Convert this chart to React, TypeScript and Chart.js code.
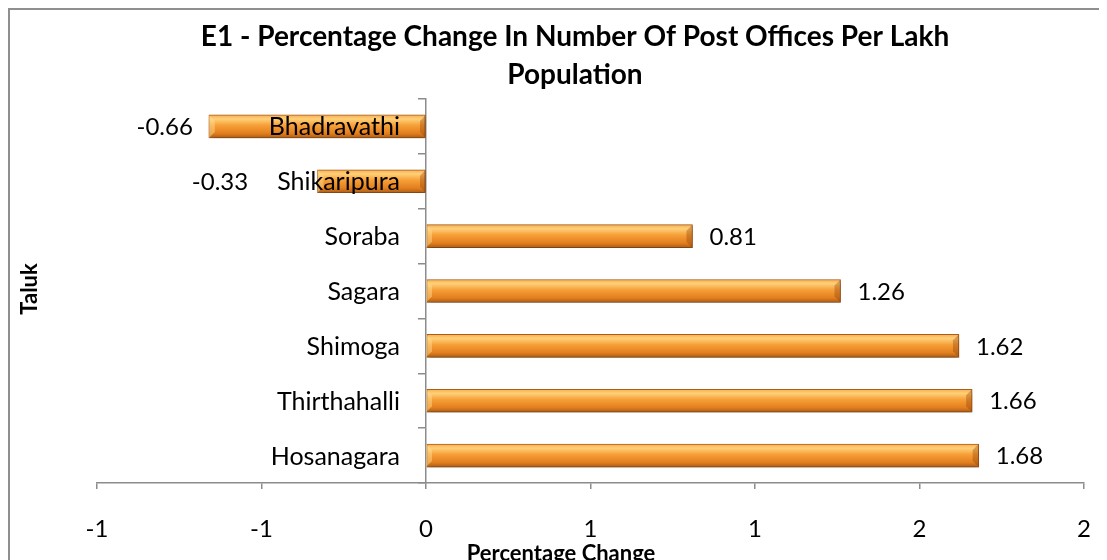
import React, { useEffect, useRef } from "react";
import { Chart, registerables } from "chart.js";

Chart.register(...registerables);

// ---- data ----
const categories = [
  "Bhadravathi",
  "Shikaripura",
  "Soraba",
  "Sagara",
  "Shimoga",
  "Thirthahalli",
  "Hosanagara",
];
const values = [-0.66, -0.33, 0.81, 1.26, 1.62, 1.66, 1.68];
const xTickLabels = ["-1", "-1", "0", "1", "1", "2", "2"];
const titleLines = [
  "E1 - Percentage Change In Number Of Post Offices Per Lakh",
  "Population",
];
const xTitle = "Percentage Change";
const yTitle = "Taluk";

const W = 1099;
const H = 552;
const FONT = "Lato";
const BAR_T = 23;
const AXIS_COLOR = "#8c8c8c";
const CAT_GAP = 26;

const decorPlugin = {
  id: "decor",
  beforeDraw(chart: any) {
    const ctx = chart.ctx;
    ctx.save();
    ctx.strokeStyle = "#8f8f8f";
    ctx.lineWidth = 2;
    ctx.strokeRect(1, 1, W + 20, H + 20);
    ctx.restore();
  },
  beforeDatasetsDraw(chart: any) {
    const ctx = chart.ctx;
    ctx.save();
    ctx.shadowColor = "rgba(0,0,0,0.35)";
    ctx.shadowBlur = 5;
    ctx.shadowOffsetX = 1;
    ctx.shadowOffsetY = 3;
  },
  afterDatasetsDraw(chart: any) {
    const ctx = chart.ctx;
    ctx.restore();
    const meta = chart.getDatasetMeta(0);
    const xs = chart.scales.x;
    const ys = chart.scales.y;
    const zero = xs.getPixelForValue(0);
    ctx.save();
    ctx.font = `25px ${FONT}`;
    const catLeft = categories.map((n) => zero - CAT_GAP - ctx.measureText(n).width);
    meta.data.forEach((bar: any, i: number) => {
      const x0 = Math.min(bar.x, zero);
      const x1 = Math.max(bar.x, zero);
      const y0 = bar.y - BAR_T / 2;
      const y1 = bar.y + BAR_T / 2;
      const b = 6;
      ctx.fillStyle = "rgba(255,225,150,0.45)";
      ctx.beginPath();
      ctx.moveTo(x0, y0);
      ctx.lineTo(x0 + b, y0 + b);
      ctx.lineTo(x0 + b, y1 - b);
      ctx.lineTo(x0, y1);
      ctx.closePath();
      ctx.fill();
      ctx.fillStyle = "rgba(140,60,5,0.35)";
      ctx.beginPath();
      ctx.moveTo(x1, y0);
      ctx.lineTo(x1 - b, y0 + b);
      ctx.lineTo(x1 - b, y1 - b);
      ctx.lineTo(x1, y1);
      ctx.closePath();
      ctx.fill();
      const v = values[i];
      ctx.fillStyle = "#000";
      ctx.font = `24px ${FONT}`;
      ctx.textBaseline = "middle";
      if (v >= 0) {
        ctx.textAlign = "left";
        ctx.fillText(String(v), bar.x + 17, bar.y + 1);
      } else {
        ctx.textAlign = "right";
        const xr = Math.min(bar.x - 16, catLeft[i] - 29);
        ctx.fillText(String(v), xr, bar.y + 1);
      }
    });
    // category labels beside the zero line, drawn over the bars
    ctx.fillStyle = "#000";
    ctx.font = `25px ${FONT}`;
    ctx.textAlign = "right";
    ctx.textBaseline = "middle";
    categories.forEach((name, i) => {
      ctx.fillText(name, zero - CAT_GAP, ys.getPixelForValue(i) + 1);
    });
    ctx.restore();
  },
  afterDraw(chart: any) {
    const ctx = chart.ctx;
    ctx.save();
    ctx.fillStyle = "#000";
    ctx.textAlign = "center";
    ctx.textBaseline = "alphabetic";
    ctx.font = `bold 28px ${FONT}`;
    ctx.fillText(titleLines[0], 567, 38);
    ctx.fillText(titleLines[1], 567, 76);
    ctx.font = `bold 22px ${FONT}`;
    ctx.fillText(xTitle, 553, 553);
    ctx.translate(22, 281);
    ctx.rotate(-Math.PI / 2);
    ctx.textBaseline = "middle";
    ctx.font = `bold 22px ${FONT}`;
    ctx.fillText(yTitle, 0, 0);
    ctx.restore();
  },
};

export default function App() {
  const ref = useRef<HTMLCanvasElement | null>(null);
  useEffect(() => {
    document.documentElement.style.overflow = "hidden";
    const canvas = ref.current!;
    const chart = new Chart(canvas, {
      type: "bar",
      data: {
        labels: categories,
        datasets: [
          {
            data: values,
            barThickness: BAR_T,
            borderWidth: 1,
            borderColor: "#b0601a",
            borderSkipped: false,
            backgroundColor: (c: any) => {
              const ch = c.chart;
              const ys = ch.scales && ch.scales.y;
              if (!ys || c.dataIndex === undefined) return "#f39a36";
              const cy = ys.getPixelForValue(c.dataIndex);
              if (!isFinite(cy)) return "#f39a36";
              const g = ch.ctx.createLinearGradient(0, cy - BAR_T / 2, 0, cy + BAR_T / 2);
              g.addColorStop(0, "#f8ad50");
              g.addColorStop(0.18, "#ffd078");
              g.addColorStop(0.45, "#f79f38");
              g.addColorStop(0.8, "#e27f1e");
              g.addColorStop(1, "#ad5c16");
              return g;
            },
          },
        ],
      },
      options: {
        animation: false,
        responsive: false,
        indexAxis: "y",
        layout: { padding: { left: 89, right: 23, top: 91, bottom: 0 } },
        plugins: {
          legend: { display: false },
          title: { display: false },
          tooltip: { enabled: false },
        },
        scales: {
          x: {
            type: "linear",
            min: -1,
            max: 2,
            afterFit: (s: any) => {
              s.height = 77;
            },
            ticks: {
              stepSize: 0.5,
              callback: (_v: any, i: number) => xTickLabels[i],
              font: { family: FONT, size: 24, lineHeight: 2.53 },
              color: "#000",
              padding: 10,
            },
            grid: {
              drawOnChartArea: false,
              drawTicks: true,
              tickLength: 6,
              color: AXIS_COLOR,
              lineWidth: 1.5,
            },
            border: { display: true, color: AXIS_COLOR, width: 1.5 },
          },
          y: {
            position: { x: 0 },
            ticks: { display: false },
            grid: {
              drawOnChartArea: false,
              drawTicks: true,
              tickLength: 7,
              offset: true,
              color: AXIS_COLOR,
              lineWidth: 1.5,
            },
            border: { display: true, color: AXIS_COLOR, width: 1.5 },
          },
        },
      } as any,
      plugins: [decorPlugin],
    });
    return () => chart.destroy();
  }, []);
  return (
    <div style={{ width: W, height: H }}>
      <canvas ref={ref} width={W} height={H} style={{ width: W, height: H, display: "block" }} />
    </div>
  );
}
